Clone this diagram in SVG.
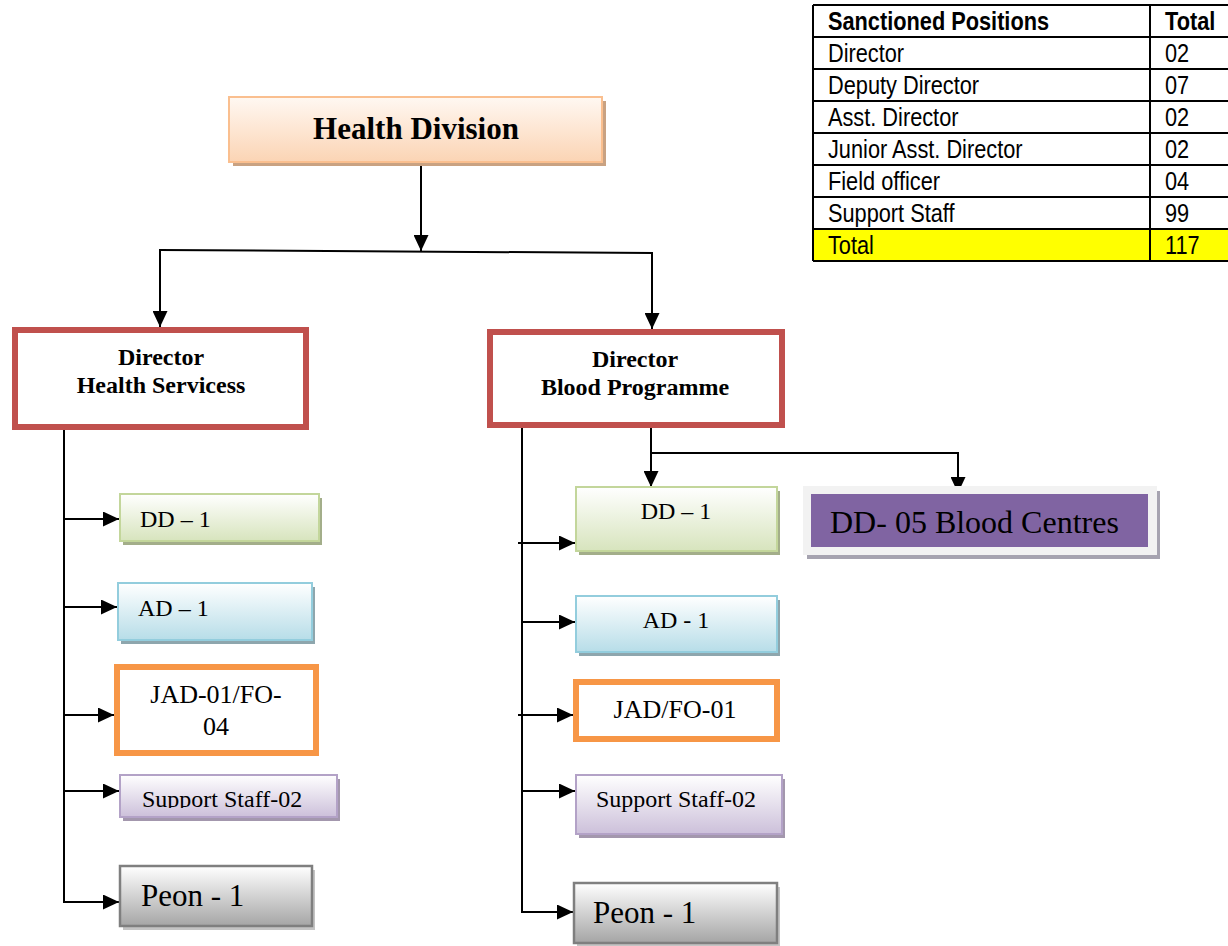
<svg xmlns="http://www.w3.org/2000/svg" width="1228" height="946" viewBox="0 0 1228 946">
  <style>
    .serif { font-family: "Liberation Serif", "Times New Roman", serif; fill: #000; }
    .bold { font-weight: bold; }
    .tbl { font-family: "Liberation Sans", Arial, sans-serif; font-size: 25px; fill: #000; }
    .line { stroke: #000; stroke-width: 2; fill: none; }
    .arrow { stroke: #000; stroke-width: 2; fill: none; marker-end: url(#head); }
    .director { fill: #fff; stroke: #c0504d; stroke-width: 6; }
    .jad { fill: #fff; stroke: #f79646; stroke-width: 6; }
    .grid { stroke: #000; stroke-width: 2; fill: none; }
  </style>
  <defs>
    <marker id="head" markerUnits="userSpaceOnUse" markerWidth="17" markerHeight="15" refX="16" refY="7.5" orient="auto">
      <path d="M0,0 L16,7.5 L0,15 Z" fill="#000"/>
    </marker>
    <linearGradient id="gPeach" x1="0" y1="0" x2="0" y2="1">
      <stop offset="0" stop-color="#fff8f2"/>
      <stop offset="1" stop-color="#fbd4b4"/>
    </linearGradient>
    <linearGradient id="gGreen" x1="0" y1="0" x2="0" y2="1">
      <stop offset="0" stop-color="#ffffff"/>
      <stop offset="1" stop-color="#d7e4bd"/>
    </linearGradient>
    <linearGradient id="gBlue" x1="0" y1="0" x2="0" y2="1">
      <stop offset="0" stop-color="#ffffff"/>
      <stop offset="1" stop-color="#b7dde8"/>
    </linearGradient>
    <linearGradient id="gLilac" x1="0" y1="0" x2="0" y2="1">
      <stop offset="0" stop-color="#ffffff"/>
      <stop offset="1" stop-color="#ccc0da"/>
    </linearGradient>
    <linearGradient id="gGray" x1="0" y1="0" x2="0" y2="1">
      <stop offset="0" stop-color="#ffffff"/>
      <stop offset="1" stop-color="#a5a5a5"/>
    </linearGradient>
    <clipPath id="ssClip">
      <rect x="120" y="775" width="217" height="33"/>
    </clipPath>
  </defs>

  <rect width="1228" height="946" fill="#fff"/>

  <!-- Sanctioned positions table -->
  <g id="table">
    <rect x="813" y="229" width="420" height="32" fill="#ffff00"/>
    <path class="grid" d="M813,5 H1240 M813,37 H1240 M813,69 H1240 M813,101 H1240 M813,133 H1240 M813,165 H1240 M813,197 H1240 M813,229 H1240 M813,261 H1240 M813,5 V261 M1150,5 V261"/>
    <text class="tbl bold" transform="translate(828,30) scale(0.87,1)">Sanctioned Positions</text>
    <text class="tbl bold" transform="translate(1165,30) scale(0.87,1)">Total</text>
    <text class="tbl" transform="translate(828,62) scale(0.87,1)">Director</text>
    <text class="tbl" transform="translate(1165,62) scale(0.87,1)">02</text>
    <text class="tbl" transform="translate(828,94) scale(0.87,1)">Deputy Director</text>
    <text class="tbl" transform="translate(1165,94) scale(0.87,1)">07</text>
    <text class="tbl" transform="translate(828,126) scale(0.87,1)">Asst. Director</text>
    <text class="tbl" transform="translate(1165,126) scale(0.87,1)">02</text>
    <text class="tbl" transform="translate(828,158) scale(0.87,1)">Junior Asst. Director</text>
    <text class="tbl" transform="translate(1165,158) scale(0.87,1)">02</text>
    <text class="tbl" transform="translate(828,190) scale(0.87,1)">Field officer</text>
    <text class="tbl" transform="translate(1165,190) scale(0.87,1)">04</text>
    <text class="tbl" transform="translate(828,222) scale(0.87,1)">Support Staff</text>
    <text class="tbl" transform="translate(1165,222) scale(0.87,1)">99</text>
    <text class="tbl" transform="translate(828,254) scale(0.87,1)">Total</text>
    <text class="tbl" transform="translate(1165,254) scale(0.87,1)">117</text>
  </g>

  <!-- Connectors -->
  <g id="connectors">
    <line class="arrow" x1="421" y1="163" x2="421" y2="251"/>
    <line class="line" x1="159" y1="250" x2="653" y2="253"/>
    <line class="arrow" x1="160" y1="250" x2="160" y2="327"/>
    <line class="arrow" x1="652" y1="253" x2="652" y2="329"/>

    <!-- Health Services branch -->
    <line class="line" x1="64" y1="430" x2="64" y2="903"/>
    <line class="arrow" x1="63" y1="519" x2="119" y2="519"/>
    <line class="arrow" x1="63" y1="607" x2="117" y2="607"/>
    <line class="arrow" x1="63" y1="715" x2="114" y2="715"/>
    <line class="arrow" x1="63" y1="791" x2="119" y2="791"/>
    <line class="arrow" x1="63" y1="902" x2="119" y2="902"/>

    <!-- Blood Programme branch -->
    <line class="line" x1="522" y1="427" x2="522" y2="913"/>
    <line class="arrow" x1="518" y1="543" x2="575" y2="543"/>
    <line class="arrow" x1="521" y1="622" x2="575" y2="622"/>
    <line class="arrow" x1="518" y1="715" x2="573" y2="715"/>
    <line class="arrow" x1="521" y1="791" x2="575" y2="791"/>
    <line class="arrow" x1="521" y1="912" x2="573" y2="912"/>

    <line class="arrow" x1="651" y1="427" x2="651" y2="487"/>
    <line class="line" x1="651" y1="453" x2="958" y2="453"/>
    <line class="arrow" x1="958" y1="452" x2="958" y2="493"/>
  </g>

  <!-- Top node -->
  <g id="health-division">
    <rect x="233" y="101" width="373" height="65" fill="#c9a282"/>
    <rect x="229" y="97" width="373" height="65" fill="url(#gPeach)" stroke="#fabf8f" stroke-width="2"/>
    <text class="serif bold" x="416" y="139" font-size="31" text-anchor="middle">Health Division</text>
  </g>

  <!-- Directors -->
  <g id="director-health">
    <rect class="director" x="15" y="330" width="291" height="97"/>
    <text class="serif bold" x="161" y="365" font-size="24" text-anchor="middle">Director</text>
    <text class="serif bold" x="161" y="393" font-size="24" text-anchor="middle">Health Servicess</text>
  </g>
  <g id="director-blood">
    <rect class="director" x="490" y="332" width="292" height="93"/>
    <text class="serif bold" x="635" y="367" font-size="24" text-anchor="middle">Director</text>
    <text class="serif bold" x="635" y="395" font-size="24" text-anchor="middle">Blood Programme</text>
  </g>

  <!-- Health Services staff -->
  <g id="hs-dd">
    <rect x="123" y="498" width="199" height="47" fill="#a3ae8a"/>
    <rect x="120" y="494" width="199" height="47" fill="url(#gGreen)" stroke="#c3d69b" stroke-width="2"/>
    <text class="serif" x="140" y="527" font-size="24">DD – 1</text>
  </g>
  <g id="hs-ad">
    <rect x="121" y="587" width="194" height="57" fill="#8ea6ad"/>
    <rect x="118" y="583" width="194" height="57" fill="url(#gBlue)" stroke="#93cddd" stroke-width="2"/>
    <text class="serif" x="138" y="616" font-size="24">AD – 1</text>
  </g>
  <g id="hs-jad">
    <rect class="jad" x="117" y="667" width="199" height="86"/>
    <text class="serif" x="216" y="703" font-size="26" text-anchor="middle">JAD-01/FO-</text>
    <text class="serif" x="216" y="735" font-size="26" text-anchor="middle">04</text>
  </g>
  <g id="hs-support">
    <rect x="123" y="779" width="217" height="42" fill="#a397ad"/>
    <rect x="120" y="775" width="217" height="42" fill="url(#gLilac)" stroke="#b3a2c7" stroke-width="2"/>
    <text class="serif" x="142" y="807" font-size="24" clip-path="url(#ssClip)">Support Staff-02</text>
  </g>
  <g id="hs-peon">
    <rect x="123" y="870" width="192" height="60" fill="#c4c4c4"/>
    <rect x="120" y="866" width="192" height="60" fill="url(#gGray)" stroke="#7f7f7f" stroke-width="2.5"/>
    <text class="serif" x="141" y="906" font-size="31">Peon - 1</text>
  </g>

  <!-- Blood Programme staff -->
  <g id="bp-dd">
    <rect x="579" y="491" width="201" height="64" fill="#a3ae8a"/>
    <rect x="576" y="487" width="201" height="64" fill="url(#gGreen)" stroke="#c3d69b" stroke-width="2"/>
    <text class="serif" x="676" y="519" font-size="24" text-anchor="middle">DD – 1</text>
  </g>
  <g id="bp-ad">
    <rect x="579" y="600" width="201" height="56" fill="#8ea6ad"/>
    <rect x="576" y="596" width="201" height="56" fill="url(#gBlue)" stroke="#93cddd" stroke-width="2"/>
    <text class="serif" x="676" y="628" font-size="24" text-anchor="middle">AD - 1</text>
  </g>
  <g id="bp-jad">
    <rect class="jad" x="576" y="682" width="201" height="57"/>
    <text class="serif" x="675" y="718" font-size="26" text-anchor="middle">JAD/FO-01</text>
  </g>
  <g id="bp-support">
    <rect x="579" y="779" width="206" height="59" fill="#a397ad"/>
    <rect x="576" y="775" width="206" height="59" fill="url(#gLilac)" stroke="#b3a2c7" stroke-width="2"/>
    <text class="serif" x="676" y="807" font-size="24" text-anchor="middle">Support Staff-02</text>
  </g>
  <g id="bp-peon">
    <rect x="577" y="887" width="203" height="60" fill="#c4c4c4"/>
    <rect x="574" y="883" width="203" height="60" fill="url(#gGray)" stroke="#7f7f7f" stroke-width="2.5"/>
    <text class="serif" x="593" y="923" font-size="31">Peon - 1</text>
  </g>

  <!-- Blood centres -->
  <g id="blood-centres">
    <rect x="807" y="491" width="353" height="68" fill="#a6a3b0"/>
    <rect x="803" y="486" width="354" height="69" fill="#f2f2f2"/>
    <rect x="811" y="494" width="337" height="53" fill="#8064a2"/>
    <text class="serif" x="830" y="533" font-size="32">DD- 05 Blood Centres</text>
  </g>
</svg>
